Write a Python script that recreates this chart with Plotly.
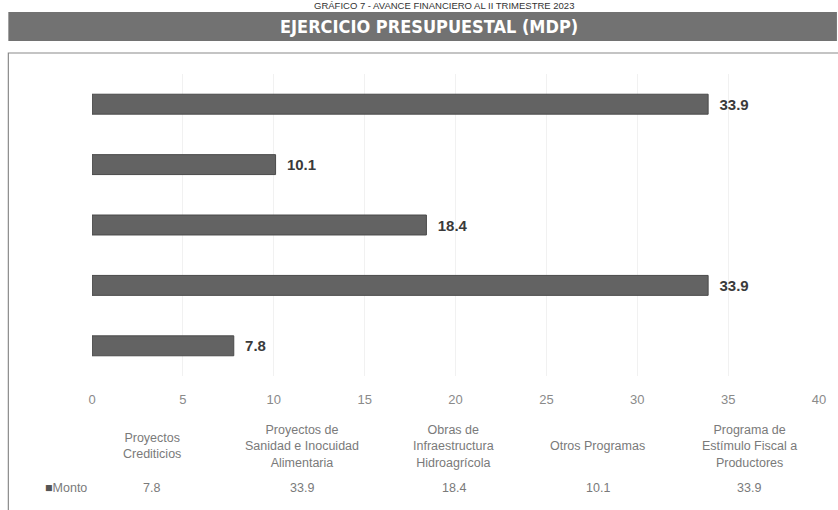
import plotly.graph_objects as go

categories = ["Proyectos Crediticios", "Proyectos de Sanidad e Inocuidad Alimentaria",
              "Obras de Infraestructura Hidroagrícola", "Otros Programas",
              "Programa de Estímulo Fiscal a Productores"]
table_labels = ["Proyectos<br>Crediticios", "Proyectos de<br>Sanidad e Inocuidad<br>Alimentaria",
                "Obras de<br>Infraestructura<br>Hidroagrícola", "Otros Programas",
                "Programa de<br>Estímulo Fiscal a<br>Productores"]
table_values = [7.8, 33.9, 18.4, 10.1, 33.9]
bar_values = [7.8, 33.9, 18.4, 10.1, 33.9]
tick_vals = [0, 5, 10, 15, 20, 25, 30, 35, 40]
series_name = "Monto"
title_text = "EJERCICIO PRESUPUESTAL (MDP)"
top_text = "GRÁFICO 7 - AVANCE FINANCIERO AL II TRIMESTRE 2023"

W, H = 838, 510
L, R, T, B = 92, 16, 74, 134
pw, ph = W - L - R, H - T - B

def px_x(px):
    return (px - L) / pw

def px_y(py):
    return (H - B - py) / ph

TABLE_FONT = dict(family="Liberation Sans Narrow, Liberation Sans, Arial, sans-serif", size=12.5, color="#7a7a7a")

fig = go.Figure()
fig.add_trace(go.Bar(
    y=categories, x=bar_values, orientation="h", name=series_name,
    marker=dict(color="#636363", line=dict(color="#4a4a4a", width=1)),
    width=0.33,
    text=["\u00a0\u00a0" + f"{v:.1f}" for v in bar_values], textposition="outside",
    textfont=dict(family="Liberation Sans, Arial, sans-serif", size=15, color="#3a3a3a", weight="bold"),
    cliponaxis=False,
))

shapes = [
    dict(type="rect", xref="paper", yref="paper", x0=px_x(8), x1=px_x(840), y0=px_y(41), y1=px_y(12),
         fillcolor="#727272", line=dict(width=0), layer="below"),
    dict(type="rect", xref="paper", yref="paper", x0=px_x(8), x1=px_x(845), y0=px_y(520), y1=px_y(53),
         fillcolor="rgba(0,0,0,0)", line=dict(color="#8a8a8a", width=1.2), layer="below"),
]

annotations = [
    dict(text=f"<b>{title_text}</b>", xref="paper", yref="paper", x=px_x(430), y=px_y(27),
         xanchor="center", yanchor="middle", showarrow=False,
         font=dict(family="Liberation Sans Narrow, DejaVu Sans Condensed, sans-serif", size=18, color="white")),
    dict(text=top_text, xref="paper", yref="paper", x=px_x(445), y=px_y(5),
         xanchor="center", yanchor="middle", showarrow=False,
         font=dict(family="Liberation Sans, Arial, sans-serif", size=9.5, color="#333")),
]

col_centers = [152, 303, 455, 600, 752]
for lab, val, cx in zip(table_labels, table_values, col_centers):
    annotations.append(dict(text=lab, xref="paper", yref="paper", x=px_x(cx), y=px_y(446),
                            xanchor="center", yanchor="middle", align="center", showarrow=False,
                            font=TABLE_FONT))
    annotations.append(dict(text=f"{val}", xref="paper", yref="paper", x=px_x(cx), y=px_y(488),
                            xanchor="center", yanchor="middle", showarrow=False, font=TABLE_FONT))
annotations.append(dict(text="<span style='color:#555'>■</span>" + series_name, xref="paper", yref="paper",
                        x=px_x(43), y=px_y(488), xanchor="left", yanchor="middle", showarrow=False,
                        font=TABLE_FONT))

fig.update_layout(
    width=W, height=H, margin=dict(l=L, r=R, t=T, b=B),
    paper_bgcolor="white", plot_bgcolor="white", showlegend=False,
    xaxis=dict(range=[0, 40], tickvals=tick_vals, showgrid=True, gridcolor="#f1f1f1",
               zeroline=False, showline=False, ticks="", ticklabelstandoff=14,
               tickfont=dict(family="Liberation Sans, Arial, sans-serif", size=13, color="#8a8a8a")),
    yaxis=dict(showticklabels=False, showgrid=False, zeroline=False, showline=False, ticks=""),
    shapes=shapes, annotations=annotations,
)

fig.write_html("out.html", config={"displayModeBar": False},
               post_script="document.body.style.margin='0';document.body.style.overflow='hidden';")
